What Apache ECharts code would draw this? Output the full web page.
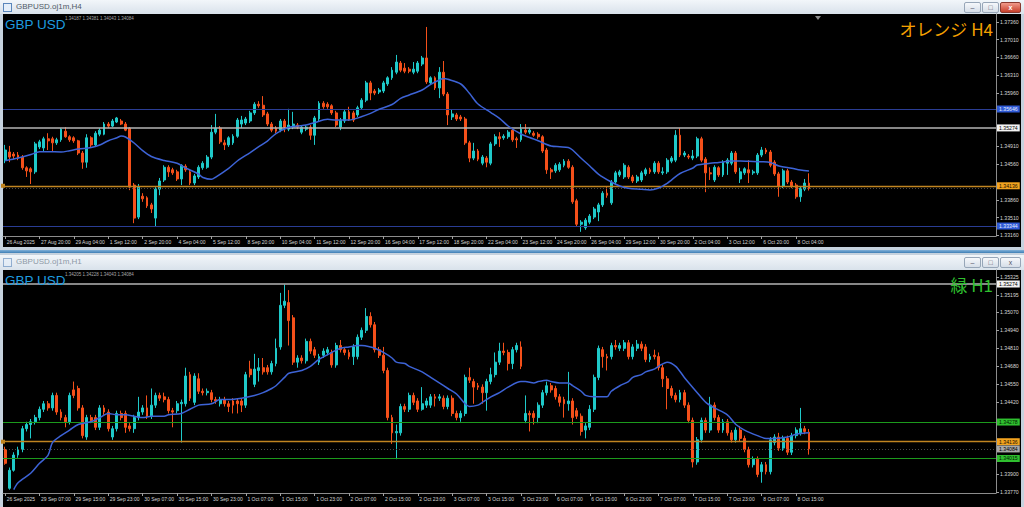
<!DOCTYPE html>
<html><head><meta charset="utf-8">
<script src="https://cdn.jsdelivr.net/npm/echarts@6/dist/echarts.min.js"></script>
<style>
html,body{margin:0;padding:0;width:1024px;height:507px;overflow:hidden;background:#c6d2de;font-family:"Liberation Sans",Arial,sans-serif;}
.title{position:absolute;left:0;width:1024px;height:14px;background:linear-gradient(#f2f6fa,#d9e2eb);}
.title span{position:absolute;left:16px;top:2px;font-size:8px;line-height:10px;}
.icon{position:absolute;left:3px;top:3px;width:7px;height:7px;border:1px solid #5a86bb;background:#e4eef9;}
.body{position:absolute;left:3px;width:1018px;background:#000;}
.btn{position:absolute;top:2px;width:15px;height:9px;border:1px solid #97a6b8;border-radius:2px;background:linear-gradient(#f6f8fb,#d6dee8);}
.btn.close{width:19px;}
.btn.red{background:linear-gradient(#f09a8a,#c8402c);border-color:#8a3a30;}
.glyph{position:absolute;left:0;top:0;width:100%;text-align:center;font-size:7px;line-height:9px;color:#556;}
.red .glyph{color:#fff;font-weight:bold;}
#chart{position:absolute;left:0;top:0;width:1024px;height:507px;}
</style></head><body>
<div class="title" style="top:0"><div class="icon"></div><span style="color:#505a66">GBPUSD.oj1m,H4</span>
<div class="btn" style="left:964px"><div class="glyph">&#8211;</div></div>
<div class="btn" style="left:982px"><div class="glyph">&#9633;</div></div>
<div class="btn close red" style="left:1000px"><div class="glyph">x</div></div></div>
<div class="body" style="top:14px;height:233px"></div>
<div style="position:absolute;left:0;top:250px;width:1024px;height:3px;background:linear-gradient(#7fb0d8,#3f7fb6)"></div>
<div class="title" style="top:255px;height:15px"><div class="icon" style="opacity:.6"></div><span style="color:#8d99a6">GBPUSD.oj1m,H1</span>
<div class="btn" style="left:964px"><div class="glyph">&#8211;</div></div>
<div class="btn" style="left:982px"><div class="glyph">&#9633;</div></div>
<div class="btn close" style="left:1000px"><div class="glyph">x</div></div></div>
<div class="body" style="top:270px;height:237px"></div>
<div id="chart"></div>
<script>
// ---------- data ----------
const h4TickLabels = ["26 Aug 2025","27 Aug 20:00","29 Aug 04:00","1 Sep 12:00","2 Sep 20:00","4 Sep 04:00","5 Sep 12:00","8 Sep 20:00","10 Sep 04:00","11 Sep 12:00","12 Sep 20:00","16 Sep 04:00","17 Sep 12:00","18 Sep 20:00","22 Sep 04:00","23 Sep 12:00","24 Sep 20:00","26 Sep 04:00","29 Sep 12:00","30 Sep 20:00","2 Oct 04:00","3 Oct 12:00","6 Oct 20:00","8 Oct 04:00"];
const h1TickLabels = ["26 Sep 2025","29 Sep 07:00","29 Sep 15:00","29 Sep 23:00","30 Sep 07:00","30 Sep 15:00","30 Sep 23:00","1 Oct 07:00","1 Oct 15:00","1 Oct 23:00","2 Oct 07:00","2 Oct 15:00","2 Oct 23:00","3 Oct 07:00","3 Oct 15:00","3 Oct 23:00","6 Oct 07:00","6 Oct 15:00","6 Oct 23:00","7 Oct 07:00","7 Oct 15:00","7 Oct 23:00","8 Oct 07:00","8 Oct 15:00"];

// H4 candles: [open, close, low, high]
const h4Bars = [
[1.3464,1.3484,1.3458,1.3494],[1.3480,1.3470,1.3460,1.3492],[1.3476,1.3472,1.3466,1.3480],[1.3474,1.3468,1.3464,1.3480],[1.3470,1.3449,1.3445,1.3474],
[1.3449,1.3443,1.3431,1.3452],[1.3447,1.3441,1.3417,1.3450],[1.3441,1.3496,1.3437,1.3500],[1.3490,1.3500,1.3486,1.3504],[1.3488,1.3506,1.3482,1.3510],
[1.3506,1.3502,1.3484,1.3517],[1.3506,1.3498,1.3482,1.3510],[1.3498,1.3504,1.3494,1.3508],[1.3504,1.3525,1.3500,1.3527],[1.3521,1.3510,1.3508,1.3529],
[1.3510,1.3504,1.3500,1.3513],[1.3508,1.3502,1.3498,1.3511],[1.3502,1.3478,1.3474,1.3504],[1.3478,1.3460,1.3447,1.3482],[1.3460,1.3508,1.3449,1.3515],
[1.3508,1.3494,1.3490,1.3511],[1.3494,1.3517,1.3490,1.3521],[1.3515,1.3523,1.3511,1.3527],[1.3515,1.3535,1.3513,1.3539],[1.3535,1.3531,1.3527,1.3539],
[1.3531,1.3541,1.3529,1.3545],[1.3539,1.3547,1.3537,1.3549],[1.3541,1.3535,1.3533,1.3545],[1.3535,1.3523,1.3521,1.3539],[1.3527,1.3411,1.3405,1.3529],
[1.3415,1.3350,1.3340,1.3419],[1.3352,1.3411,1.3348,1.3417],[1.3393,1.3388,1.3382,1.3399],[1.3390,1.3374,1.3370,1.3393],[1.3376,1.3368,1.3360,1.3380],
[1.3350,1.3407,1.3333,1.3411],[1.3407,1.3423,1.3395,1.3429],[1.3425,1.3450,1.3421,1.3454],[1.3450,1.3441,1.3431,1.3454],[1.3445,1.3439,1.3435,1.3449],
[1.3441,1.3427,1.3423,1.3445],[1.3427,1.3454,1.3415,1.3456],[1.3452,1.3445,1.3441,1.3456],[1.3441,1.3419,1.3415,1.3445],[1.3419,1.3433,1.3415,1.3437],
[1.3431,1.3450,1.3427,1.3454],[1.3449,1.3458,1.3445,1.3462],[1.3450,1.3470,1.3447,1.3474],[1.3470,1.3519,1.3466,1.3533],[1.3519,1.3527,1.3515,1.3555],
[1.3527,1.3500,1.3496,1.3531],[1.3498,1.3494,1.3484,1.3504],[1.3494,1.3508,1.3490,1.3511],[1.3498,1.3511,1.3494,1.3515],[1.3511,1.3543,1.3508,1.3547],
[1.3535,1.3543,1.3527,1.3551],[1.3537,1.3545,1.3533,1.3549],[1.3541,1.3557,1.3537,1.3561],[1.3557,1.3574,1.3553,1.3578],[1.3574,1.3571,1.3567,1.3580],
[1.3572,1.3553,1.3549,1.3590],[1.3555,1.3535,1.3531,1.3559],[1.3535,1.3523,1.3519,1.3539],[1.3527,1.3521,1.3517,1.3531],[1.3523,1.3541,1.3519,1.3545],
[1.3541,1.3529,1.3519,1.3545],[1.3525,1.3533,1.3521,1.3565],[1.3529,1.3535,1.3525,1.3559],[1.3533,1.3529,1.3525,1.3537],[1.3519,1.3529,1.3515,1.3533],
[1.3525,1.3529,1.3521,1.3533],[1.3529,1.3513,1.3504,1.3533],[1.3513,1.3547,1.3494,1.3551],[1.3545,1.3576,1.3541,1.3580],[1.3576,1.3569,1.3565,1.3580],
[1.3574,1.3569,1.3565,1.3578],[1.3571,1.3557,1.3553,1.3574],[1.3557,1.3533,1.3529,1.3561],[1.3529,1.3543,1.3523,1.3547],[1.3541,1.3559,1.3537,1.3563],
[1.3559,1.3543,1.3541,1.3569],[1.3557,1.3543,1.3539,1.3561],[1.3553,1.3567,1.3549,1.3571],[1.3567,1.3582,1.3563,1.3586],[1.3582,1.3616,1.3578,1.3620],
[1.3616,1.3596,1.3582,1.3620],[1.3600,1.3596,1.3592,1.3604],[1.3598,1.3602,1.3594,1.3606],[1.3600,1.3616,1.3596,1.3620],[1.3614,1.3626,1.3610,1.3629],
[1.3626,1.3641,1.3622,1.3647],[1.3637,1.3657,1.3633,1.3671],[1.3655,1.3641,1.3637,1.3659],[1.3645,1.3639,1.3635,1.3655],[1.3643,1.3639,1.3635,1.3647],
[1.3637,1.3643,1.3633,1.3657],[1.3639,1.3655,1.3635,1.3659],[1.3653,1.3665,1.3649,1.3669],[1.3665,1.3618,1.3614,1.3726],[1.3616,1.3626,1.3612,1.3629],
[1.3626,1.3606,1.3602,1.3629],[1.3606,1.3637,1.3586,1.3647],[1.3637,1.3594,1.3590,1.3659],[1.3594,1.3553,1.3533,1.3598],[1.3549,1.3555,1.3543,1.3563],
[1.3553,1.3545,1.3541,1.3557],[1.3549,1.3545,1.3541,1.3553],[1.3545,1.3498,1.3494,1.3549],[1.3498,1.3468,1.3460,1.3502],[1.3468,1.3482,1.3464,1.3498],
[1.3482,1.3466,1.3462,1.3486],[1.3458,1.3470,1.3454,1.3474],[1.3468,1.3460,1.3450,1.3472],[1.3458,1.3496,1.3454,1.3500],[1.3496,1.3510,1.3492,1.3515],
[1.3510,1.3506,1.3490,1.3519],[1.3508,1.3511,1.3504,1.3515],[1.3510,1.3519,1.3506,1.3523],[1.3523,1.3504,1.3500,1.3527],[1.3506,1.3504,1.3488,1.3510],
[1.3504,1.3525,1.3500,1.3535],[1.3523,1.3519,1.3515,1.3535],[1.3519,1.3523,1.3515,1.3527],[1.3517,1.3513,1.3510,1.3521],[1.3515,1.3510,1.3506,1.3519],
[1.3510,1.3482,1.3478,1.3513],[1.3484,1.3445,1.3437,1.3488],[1.3445,1.3441,1.3427,1.3449],[1.3443,1.3454,1.3439,1.3458],[1.3445,1.3456,1.3441,1.3460],
[1.3454,1.3462,1.3450,1.3466],[1.3462,1.3450,1.3447,1.3466],[1.3450,1.3382,1.3378,1.3454],[1.3384,1.3338,1.3334,1.3388],[1.3338,1.3342,1.3323,1.3346],
[1.3331,1.3346,1.3327,1.3350],[1.3342,1.3354,1.3338,1.3358],[1.3352,1.3368,1.3348,1.3372],[1.3362,1.3376,1.3344,1.3380],[1.3376,1.3399,1.3372,1.3403],
[1.3399,1.3395,1.3390,1.3411],[1.3380,1.3421,1.3376,1.3425],[1.3421,1.3439,1.3417,1.3443],[1.3435,1.3441,1.3431,1.3445],[1.3431,1.3454,1.3427,1.3458],
[1.3450,1.3431,1.3427,1.3454],[1.3431,1.3423,1.3419,1.3435],[1.3423,1.3431,1.3419,1.3435],[1.3425,1.3439,1.3421,1.3443],[1.3437,1.3445,1.3433,1.3449],
[1.3445,1.3441,1.3437,1.3449],[1.3441,1.3458,1.3437,1.3462],[1.3458,1.3441,1.3437,1.3462],[1.3439,1.3441,1.3435,1.3450],[1.3441,1.3464,1.3437,1.3468],
[1.3462,1.3468,1.3458,1.3472],[1.3464,1.3513,1.3460,1.3523],[1.3513,1.3474,1.3470,1.3527],[1.3474,1.3478,1.3470,1.3482],[1.3472,1.3470,1.3466,1.3476],
[1.3468,1.3472,1.3464,1.3484],[1.3472,1.3506,1.3468,1.3510],[1.3506,1.3464,1.3460,1.3510],[1.3466,1.3439,1.3401,1.3470],[1.3439,1.3437,1.3425,1.3450],
[1.3425,1.3450,1.3421,1.3454],[1.3449,1.3435,1.3431,1.3452],[1.3435,1.3460,1.3431,1.3464],[1.3458,1.3464,1.3435,1.3468],[1.3458,1.3478,1.3454,1.3482],
[1.3478,1.3441,1.3437,1.3482],[1.3427,1.3441,1.3419,1.3449],[1.3439,1.3447,1.3435,1.3450],[1.3445,1.3439,1.3419,1.3464],[1.3439,1.3441,1.3435,1.3445],
[1.3439,1.3474,1.3435,1.3478],[1.3474,1.3484,1.3470,1.3490],[1.3484,1.3480,1.3476,1.3488],[1.3480,1.3454,1.3450,1.3484],[1.3460,1.3437,1.3433,1.3464],
[1.3437,1.3413,1.3392,1.3441],[1.3413,1.3443,1.3409,1.3447],[1.3443,1.3421,1.3417,1.3447],[1.3421,1.3413,1.3409,1.3425],[1.3415,1.3392,1.3388,1.3419],
[1.3392,1.3409,1.3382,1.3413],[1.3407,1.3419,1.3403,1.3427],[1.34187,1.34084,1.34043,1.34381]
];

// H1 candles: [open, close, low, high]
const h1Bars = [
[1.3408,1.3398,1.3397,1.3410],[1.3380,1.3393,1.3379,1.3395],[1.3393,1.3404,1.3392,1.3406],[1.3404,1.3408,1.3402,1.3410],[1.3408,1.3423,1.3406,1.3425],
[1.3423,1.3426,1.3421,1.3428],[1.3426,1.3428,1.3416,1.3430],[1.3428,1.3431,1.3426,1.3433],[1.3431,1.3437,1.3429,1.3439],[1.3437,1.3441,1.3435,1.3443],
[1.3441,1.3438,1.3436,1.3443],[1.3438,1.3447,1.3436,1.3449],[1.3447,1.3435,1.3433,1.3449],[1.3435,1.3431,1.3429,1.3437],[1.3431,1.3428,1.3424,1.3433],
[1.3428,1.3447,1.3426,1.3449],[1.3451,1.3447,1.3445,1.3457],[1.3452,1.3438,1.3436,1.3454],[1.3438,1.3418,1.3416,1.3440],[1.3417,1.3431,1.3415,1.3433],
[1.3431,1.3429,1.3427,1.3433],[1.3431,1.3424,1.3422,1.3433],[1.3424,1.3438,1.3422,1.3440],[1.3438,1.3435,1.3433,1.3440],[1.3435,1.3423,1.3421,1.3437],
[1.3417,1.3423,1.3415,1.3425],[1.3423,1.3434,1.3421,1.3436],[1.3434,1.3431,1.3429,1.3436],[1.3434,1.3424,1.3420,1.3436],[1.3425,1.3423,1.3421,1.3427],
[1.3423,1.3431,1.3420,1.3433],[1.3431,1.3435,1.3429,1.3446],[1.3435,1.3438,1.3433,1.3440],[1.3438,1.3432,1.3430,1.3447],[1.3432,1.3440,1.3430,1.3452],
[1.3440,1.3447,1.3438,1.3449],[1.3447,1.3445,1.3443,1.3449],[1.3446,1.3444,1.3442,1.3449],[1.3444,1.3436,1.3434,1.3446],[1.3436,1.3435,1.3424,1.3438],
[1.3436,1.3441,1.3434,1.3443],[1.3441,1.3442,1.3413,1.3444],[1.3441,1.3461,1.3439,1.3467],[1.3462,1.3445,1.3443,1.3464],[1.3442,1.3461,1.3440,1.3463],
[1.3459,1.3450,1.3448,1.3463],[1.3450,1.3449,1.3447,1.3452],[1.3449,1.3450,1.3447,1.3452],[1.3449,1.3444,1.3442,1.3451],[1.3444,1.3443,1.3441,1.3446],
[1.3441,1.3444,1.3439,1.3446],[1.3444,1.3441,1.3439,1.3446],[1.3441,1.3439,1.3435,1.3443],[1.3443,1.3440,1.3434,1.3445],[1.3443,1.3441,1.3434,1.3445],
[1.3443,1.3440,1.3435,1.3445],[1.3440,1.3462,1.3438,1.3464],[1.3466,1.3462,1.3460,1.3472],[1.3455,1.3466,1.3453,1.3477],[1.3465,1.3467,1.3457,1.3474],
[1.3467,1.3464,1.3462,1.3474],[1.3467,1.3464,1.3462,1.3469],[1.3464,1.3470,1.3462,1.3472],[1.3470,1.3481,1.3468,1.3488],[1.3482,1.3512,1.3480,1.3521],
[1.3512,1.3515,1.3510,1.3527],[1.3514,1.3501,1.3483,1.3523],[1.3503,1.3471,1.3469,1.3505],[1.3471,1.3474,1.3467,1.3476],[1.3474,1.3472,1.3470,1.3476],
[1.3472,1.3486,1.3470,1.3488],[1.3486,1.3479,1.3477,1.3488],[1.3480,1.3476,1.3474,1.3482],[1.3471,1.3475,1.3469,1.3477],[1.3476,1.3479,1.3474,1.3481],
[1.3478,1.3480,1.3476,1.3482],[1.3478,1.3469,1.3467,1.3480],[1.3469,1.3483,1.3467,1.3485],[1.3483,1.3480,1.3478,1.3487],[1.3480,1.3478,1.3476,1.3482],
[1.3478,1.3475,1.3473,1.3480],[1.3475,1.3482,1.3469,1.3484],[1.3475,1.3489,1.3473,1.3491],[1.3489,1.3494,1.3487,1.3496],[1.3494,1.3504,1.3492,1.3510],
[1.3504,1.3498,1.3496,1.3507],[1.3498,1.3480,1.3478,1.3500],[1.3480,1.3476,1.3474,1.3482],[1.3476,1.3465,1.3463,1.3482],[1.3465,1.3431,1.3429,1.3467],
[1.3431,1.3420,1.3412,1.3433],[1.3420,1.3421,1.3401,1.3426],[1.3420,1.3439,1.3418,1.3441],[1.3439,1.3437,1.3435,1.3441],[1.3437,1.3447,1.3435,1.3449],
[1.3447,1.3442,1.3440,1.3449],[1.3443,1.3437,1.3435,1.3445],[1.3437,1.3441,1.3436,1.3453],[1.3440,1.3443,1.3438,1.3445],[1.3440,1.3446,1.3438,1.3448],
[1.3446,1.3445,1.3439,1.3448],[1.3445,1.3446,1.3443,1.3448],[1.3445,1.3439,1.3437,1.3447],[1.3439,1.3445,1.3437,1.3447],[1.3445,1.3434,1.3432,1.3447],
[1.3434,1.3431,1.3429,1.3436],[1.3431,1.3434,1.3428,1.3436],[1.3434,1.3460,1.3432,1.3462],[1.3460,1.3458,1.3456,1.3467],[1.3457,1.3453,1.3441,1.3459],
[1.3454,1.3453,1.3451,1.3456],[1.3453,1.3449,1.3441,1.3455],[1.3449,1.3457,1.3436,1.3459],[1.3457,1.3462,1.3455,1.3467],[1.3462,1.3471,1.3460,1.3478],
[1.3471,1.3479,1.3469,1.3485],[1.3479,1.3478,1.3476,1.3485],[1.3478,1.3470,1.3465,1.3480],[1.3470,1.3480,1.3466,1.3482],[1.3480,1.3483,1.3478,1.3485],
[1.3482,1.3468,1.3466,1.3486],[1.3429,1.3434,1.3427,1.3447],[1.3434,1.3433,1.3421,1.3436],[1.3434,1.3431,1.3426,1.3436],[1.3431,1.3440,1.3427,1.3442],
[1.3440,1.3449,1.3438,1.3451],[1.3449,1.3454,1.3447,1.3457],[1.3454,1.3451,1.3449,1.3456],[1.3452,1.3446,1.3444,1.3454],[1.3446,1.3442,1.3439,1.3448],
[1.3444,1.3441,1.3431,1.3446],[1.3441,1.3443,1.3436,1.3464],[1.3443,1.3431,1.3426,1.3445],[1.3436,1.3432,1.3430,1.3438],[1.3432,1.3421,1.3418,1.3434],
[1.3422,1.3425,1.3416,1.3427],[1.3424,1.3437,1.3422,1.3440],[1.3437,1.3460,1.3435,1.3462],[1.3460,1.3481,1.3458,1.3483],[1.3480,1.3475,1.3467,1.3482],
[1.3475,1.3474,1.3465,1.3477],[1.3475,1.3483,1.3473,1.3485],[1.3483,1.3482,1.3480,1.3487],[1.3481,1.3483,1.3479,1.3485],[1.3481,1.3485,1.3479,1.3487],
[1.3485,1.3475,1.3473,1.3487],[1.3475,1.3482,1.3473,1.3484],[1.3481,1.3484,1.3479,1.3487],[1.3484,1.3481,1.3479,1.3486],[1.3482,1.3473,1.3471,1.3484],
[1.3473,1.3475,1.3471,1.3477],[1.3476,1.3475,1.3473,1.3480],[1.3475,1.3467,1.3465,1.3478],[1.3467,1.3459,1.3453,1.3469],[1.3459,1.3452,1.3437,1.3461],
[1.3452,1.3447,1.3445,1.3454],[1.3447,1.3444,1.3442,1.3449],[1.3444,1.3449,1.3442,1.3451],[1.3449,1.3440,1.3438,1.3451],[1.3440,1.3429,1.3427,1.3442],
[1.3429,1.3399,1.3395,1.3431],[1.3399,1.3415,1.3397,1.3417],[1.3415,1.3429,1.3413,1.3431],[1.3429,1.3422,1.3420,1.3431],[1.3422,1.3440,1.3420,1.3446],
[1.3440,1.3431,1.3429,1.3442],[1.3431,1.3422,1.3420,1.3433],[1.3422,1.3428,1.3420,1.3430],[1.3428,1.3420,1.3418,1.3430],[1.3420,1.3415,1.3413,1.3422],
[1.3415,1.3422,1.3413,1.3424],[1.3422,1.3416,1.3414,1.3425],[1.3416,1.3408,1.3406,1.3418],[1.3408,1.3397,1.3395,1.3410],[1.3397,1.3401,1.3395,1.3403],
[1.3401,1.3390,1.3388,1.3403],[1.3392,1.3397,1.3384,1.3399],[1.3397,1.3392,1.3390,1.3399],[1.3392,1.3415,1.3390,1.3417],[1.3413,1.3417,1.3411,1.3419],
[1.3417,1.3409,1.3407,1.3420],[1.3409,1.3416,1.3407,1.3418],[1.3416,1.3406,1.3404,1.3418],[1.3406,1.3418,1.3404,1.3420],[1.3418,1.3422,1.3416,1.3424],
[1.3420,1.3423,1.3418,1.3438],[1.3423,1.3421,1.3419,1.3425],[1.34205,1.34084,1.34043,1.34228]
];

// Moving average: [bar index, price]
const h4MA = [[0,1.34629],[3,1.34682],[6,1.34751],[8,1.34806],[10,1.34806],[13,1.34800],[15,1.34826],[17,1.34859],[20,1.34889],[22,1.34938],[24,1.35022],[26,1.35081],[27,1.35115],[28,1.35095],[30,1.34977],[32,1.34826],[34,1.34712],[37,1.34633],[40,1.34578],[42,1.34485],[45,1.34367],[46,1.34299],[48,1.34263],[49,1.34308],[52,1.34480],[54,1.34623],[57,1.34790],[59,1.34904],[61,1.35016],[63,1.35164],[66,1.35286],[68,1.35312],[70,1.35331],[72,1.35380],[75,1.35443],[77,1.35430],[80,1.35430],[83,1.35498],[85,1.35561],[87,1.35640],[90,1.35734],[92,1.35856],[94,1.35921],[97,1.36020],[99,1.36132],[101,1.36216],[102,1.36246],[103,1.36230],[106,1.36138],[108,1.35955],[110,1.35744],[113,1.35577],[115,1.35463],[117,1.35312],[120,1.35154],[122,1.35085],[124,1.35022],[127,1.34918],[129,1.34904],[131,1.34889],[132,1.34839],[134,1.34676],[136,1.34525],[138,1.34367],[141,1.34210],[143,1.34131],[145,1.34086],[148,1.34066],[150,1.34052],[152,1.34092],[154,1.34184],[155,1.34249],[157,1.34377],[160,1.34485],[161,1.34544],[164,1.34578],[166,1.34594],[169,1.34623],[171,1.34623],[173,1.34617],[176,1.34609],[178,1.34594],[180,1.34525],[183,1.34480],[185,1.34446],[187,1.34426]];
const h1MA = [[2,1.3379],[3,1.3384],[6,1.3391],[8,1.3398],[10,1.3404],[11,1.3413],[13,1.3418],[15,1.3422],[17,1.3426],[20,1.3428],[22,1.3431],[24,1.3434],[26,1.3433],[28,1.3433],[30,1.3432],[32,1.3431],[34,1.3432],[37,1.3432],[38,1.3433],[41,1.3434],[43,1.3437],[45,1.3440],[48,1.3441],[50,1.3444],[52,1.3444],[55,1.3445],[58,1.3447],[60,1.3449],[62,1.3452],[63,1.3454],[65,1.3460],[66,1.3463],[69,1.3465],[71,1.3468],[73,1.3473],[76,1.3478],[78,1.3481],[80,1.3482],[82,1.3483],[83,1.3483],[85,1.3482],[86,1.3481],[88,1.3478],[90,1.3474],[91,1.3471],[93,1.3470],[94,1.3468],[97,1.3464],[99,1.3460],[101,1.3456],[103,1.3452],[105,1.3448],[107,1.3441],[108,1.3439],[110,1.3440],[111,1.3442],[113,1.3446],[115,1.3449],[117,1.3453],[120,1.3457],[121,1.3457],[123,1.3456],[124,1.3457],[126,1.3458],[127,1.3457],[129,1.3456],[131,1.3456],[132,1.3454],[134,1.3450],[135,1.3447],[137,1.3446],[138,1.3446],[140,1.3446],[141,1.3450],[143,1.3454],[145,1.3457],[146,1.3460],[148,1.3462],[149,1.3464],[151,1.3466],[152,1.3468],[154,1.3471],[156,1.3468],[158,1.3460],[161,1.3449],[163,1.3442],[165,1.3438],[168,1.3433],[170,1.3426],[172,1.3422],[175,1.3418],[177,1.3416],[179,1.3416],[182,1.3417],[184,1.3419],[187,1.3420]];

// price-axis labels (those covered by level tags in the reference are left out) and horizontal levels
const h4PriceLabels = [1.37360,1.37010,1.36660,1.36310,1.35960,1.34910,1.34560,1.33860,1.33510,1.33160];
const h1PriceLabels = [1.35325,1.35195,1.35070,1.34940,1.34810,1.34680,1.34550,1.34420,1.33900,1.33770];
const h4Levels = [1.35646,1.35274,1.34136,1.34084,1.33344];
const h4LevelKinds = ['blue','white','orange','bid','blue'];
const h1Levels = [1.35274,1.34278,1.34136,1.34084,1.34015];
const h1LevelKinds = ['white','green','orange','bidtag','green'];
const h4Info = '1.34187 1.34381 1.34043 1.34084';
const h1Info = '1.34205 1.34228 1.34043 1.34084';

// ---------- chart ----------
const FONT = '"Liberation Sans", Arial, sans-serif';
const SLOTS = 231;
const slots = Array.from({length: SLOTS}, (_, i) => String(i));
const UP = '#1fc9c9', DOWN = '#f5501a';
const kindStyle = {
  blue:   {line:'#2a3d94', w:1,   bg:'#2f5ad6', fg:'#e6ecff'},
  white:  {line:'#b4b4b4', w:1.5, bg:'#f2f2f2', fg:'#000000'},
  orange: {line:'#c08420', w:1.3, bg:'#f2a31f', fg:'#1a1000', ends:true},
  bid:    {line:'#4a4a4a', w:1, dotted:true},
  bidtag: {line:'#4a4a4a', w:1, dotted:true, bg:'#a8a8a8', fg:'#000000'},
  green:  {line:'#1c9a1c', w:1.2, bg:'#2fbf2f', fg:'#001a00'}
};

function levelData(prices, kinds) {
  return prices.map((p, i) => {
    const s = kindStyle[kinds[i]];
    const d = {
      yAxis: p,
      lineStyle: {color: s.line, width: s.w, type: s.dotted ? [1,2] : 'solid', opacity: 1},
      label: s.bg ? {show: true, position: 'end', distance: 1, formatter: p.toFixed(5),
        backgroundColor: s.bg, color: s.fg, fontSize: 5.2, fontFamily: FONT,
        padding: [0,2,0,2], lineHeight: 7} : {show: false}
    };
    if (s.ends) { d.symbol = ['rect','rect']; d.symbolSize = 4; d.itemStyle = {color: '#ffd28a'}; }
    return d;
  });
}

function xAxisFor(g, ticks) {
  const show = (i) => i % 8 === 0 && i / 8 < ticks.length;
  return {
    type: 'category', gridIndex: g, data: slots, boundaryGap: true,
    axisLine: {show: true, lineStyle: {color: '#8c8c8c', width: 1}},
    axisTick: {show: true, alignWithLabel: true, interval: (i) => show(i), length: 3, lineStyle: {color: '#a0a0a0'}},
    axisLabel: {show: true, interval: (i) => show(i), formatter: (v, i) => ticks[i / 8] || '',
      color: '#d6d6d6', fontSize: 5, fontFamily: FONT, align: 'left', margin: 3, padding: [0,0,0,1.5]},
    splitLine: {show: false}
  };
}
function yAxisFor(g, min, max, vals) {
  return {
    type: 'value', gridIndex: g, position: 'right', min: min, max: max, scale: true,
    axisLine: {show: true, lineStyle: {color: '#8c8c8c', width: 1}},
    axisTick: {show: true, customValues: vals, length: 3, lineStyle: {color: '#a0a0a0'}},
    axisLabel: {show: true, customValues: vals, formatter: (v) => v.toFixed(5),
      color: '#d6d6d6', fontSize: 5.2, fontFamily: FONT, margin: 4},
    splitLine: {show: false}
  };
}
function candle(idx, bars, levels, kinds) {
  return {
    type: 'candlestick', xAxisIndex: idx, yAxisIndex: idx, data: bars, barWidth: 2.4,
    itemStyle: {color: UP, color0: DOWN, borderColor: UP, borderColor0: DOWN, borderWidth: 1},
    markLine: {silent: true, animation: false, symbol: ['none','none'], precision: 5,
      data: levelData(levels, kinds)}
  };
}
function maLine(idx, data) {
  return {type: 'line', xAxisIndex: idx, yAxisIndex: idx, data: data, showSymbol: false, symbol: 'none',
    smooth: 0.3, lineStyle: {color: '#3d63d6', width: 1.5}, z: 5};
}

const chart = echarts.init(document.getElementById('chart'), null, {renderer: 'svg'});
chart.setOption({
  backgroundColor: 'transparent',
  animation: false,
  grid: [
    {left: 3, width: 993, top: 14, height: 222},
    {left: 3, width: 993, top: 270, height: 223}
  ],
  xAxis: [xAxisFor(0, h4TickLabels), xAxisFor(1, h1TickLabels)],
  yAxis: [yAxisFor(0, 1.33148, 1.37515, h4PriceLabels), yAxisFor(1, 1.33766, 1.35375, h1PriceLabels)],
  series: [
    candle(0, h4Bars, h4Levels, h4LevelKinds), maLine(0, h4MA),
    candle(1, h1Bars, h1Levels, h1LevelKinds), maLine(1, h1MA)
  ],
  graphic: [
    {type: 'text', x: 65, y: 16, z: 1, style: {text: h4Info, fill: '#a8a8a8', font: '4.5px ' + FONT, verticalAlign: 'top'}},
    {type: 'text', x: 5, y: 17, z: 10, style: {text: 'GBP USD', fill: '#1e9ee0', font: '13.5px ' + FONT, verticalAlign: 'top'}},
    {type: 'text', x: 993, y: 20, z: 10, style: {text: 'オレンジ H4', fill: '#f5a000', font: '17px "Noto Sans CJK JP", ' + FONT, align: 'right', verticalAlign: 'top'}},
    {type: 'polygon', z: 10, shape: {points: [[815,16],[821,16],[818,20]]}, style: {fill: '#8c8c8c'}},
    {type: 'text', x: 65, y: 272, z: 1, style: {text: h1Info, fill: '#a8a8a8', font: '4.5px ' + FONT, verticalAlign: 'top'}},
    {type: 'text', x: 5, y: 273, z: 10, style: {text: 'GBP USD', fill: '#1e9ee0', font: '13.5px ' + FONT, verticalAlign: 'top'}},
    {type: 'text', x: 993, y: 276, z: 10, style: {text: '緑 H1', fill: '#2fc02f', font: '17px "Noto Sans CJK JP", ' + FONT, align: 'right', verticalAlign: 'top'}}
  ]
});
</script>
</body></html>
